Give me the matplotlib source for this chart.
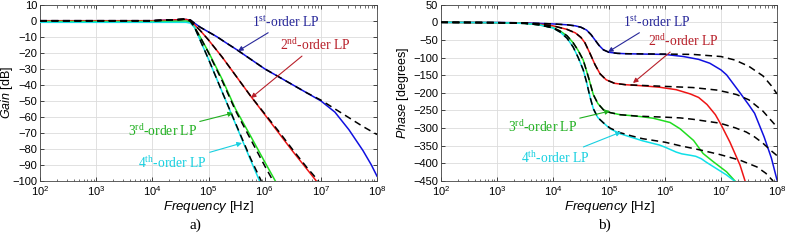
import numpy as np
import matplotlib
matplotlib.use("Agg")
import matplotlib.pyplot as plt

plt.rcParams['font.family'] = ['Liberation Sans', 'DejaVu Sans']
plt.rcParams['mathtext.fontset'] = 'custom'
plt.rcParams['mathtext.rm'] = 'Liberation Serif'
plt.rcParams['mathtext.it'] = 'Liberation Sans:italic'
plt.rcParams['mathtext.bf'] = 'Liberation Sans:bold'

# ---------------- Gain data (log10 frequency, dB) ----------------
g1_logf = [2, 4, 4.4, 4.6, 4.68, 4.75, 4.85, 5.0, 5.15, 5.3, 5.5, 5.75, 6.0, 6.25, 6.5, 6.75, 7.0, 7.25, 7.5, 7.75, 7.9, 8.0]
g1_sim = [0, 0, 0.5, 0.8, 0.3, -1.5, -4, -7, -10, -13.5, -18, -24, -30, -35, -40, -45, -50, -57, -68, -81, -90, -97]
g1d_logf = [2, 4, 4.4, 4.6, 4.68, 4.75, 4.85, 5.0, 5.15, 5.3, 5.5, 5.75, 6.0, 6.25, 6.5, 6.75, 7.0, 7.25, 7.5, 7.75, 8.0]
g1_ideal = [0, 0, 0.6, 1.0, 0.4, -1.5, -4, -7, -10, -13.5, -18, -24, -30, -35, -40, -45, -49.5, -55, -60.5, -66, -71]

g2_logf = [2, 4, 4.4, 4.6, 4.68, 4.75, 4.85, 5.0, 5.25, 5.5, 5.75, 6.0, 6.25, 6.5, 6.75, 6.92]
g2_sim = [0, 0, 0.5, 0.8, 0.2, -2.5, -6, -12, -23, -35, -47, -58.5, -70, -81.5, -92.5, -100]
g2d_logf = [2, 4, 4.4, 4.6, 4.68, 4.75, 4.85, 5.0, 5.25, 5.5, 5.75, 6.0, 6.25, 6.5, 6.75, 6.96]
g2_ideal = [0, 0, 0.6, 1.0, 0.3, -2.5, -6, -12, -23, -35, -47, -58, -69, -80.5, -91.5, -100]

g3_logf = [2, 4, 4.4, 4.6, 4.68, 4.75, 4.85, 5.0, 5.25, 5.48, 5.75, 6.0, 6.19]
g3_sim = [-0.5, -0.5, -0.3, -0.2, -1.0, -4, -10, -19.5, -37, -55, -72, -88, -100]
g3d_logf = [2, 4, 4.4, 4.6, 4.68, 4.75, 4.85, 5.0, 5.25, 5.48, 5.75, 6.0, 6.15]
g3_ideal = [0, 0, 0.6, 1.0, 0.0, -4, -10, -20, -38, -56, -74, -90.5, -100]

g4_logf = [2, 4, 4.4, 4.6, 4.68, 4.75, 4.85, 5.0, 5.25, 5.5, 5.75, 5.91]
g4_sim = [-1, -1, -1, -1, -1.5, -4, -12, -24, -45, -66, -87, -100]
g4d_logf = [2, 4, 4.4, 4.6, 4.68, 4.75, 4.85, 5.0, 5.25, 5.5, 5.75, 5.94]
g4_ideal = [0, 0, 0.6, 1.0, -0.5, -4, -12, -24, -45, -65.5, -86, -100]

# ---------------- Phase data (log10 frequency, degrees) ----------------
p1_logf = [2, 3, 3.5, 3.75, 4.0, 4.25, 4.4, 4.5, 4.6, 4.68, 4.75, 4.82, 4.9, 5.0, 5.15, 5.3, 5.6, 6.0, 6.33, 6.6, 6.8, 7.0, 7.1, 7.34, 7.5, 7.6, 7.77, 7.9, 8.0]
p1_sim = [0, -0.5, -1.5, -3, -4.5, -7, -10, -14, -22, -35, -50, -65, -78, -85, -88, -89, -90, -91, -97, -105, -116, -135, -149, -200, -235, -258, -325, -385, -447]
p1d_logf = [2, 3, 3.5, 3.75, 4.0, 4.25, 4.4, 4.5, 4.6, 4.68, 4.75, 4.82, 4.9, 5.0, 5.15, 5.3, 5.6, 6.0, 6.5, 7.0, 7.25, 7.5, 7.75, 7.9, 8.0]
p1_ideal = [0, -0.5, -1.5, -3, -4.5, -7, -10, -14, -22, -35, -50, -65, -78, -85, -88, -89, -89.5, -90, -91, -97, -107, -125, -152, -180, -203]

p2_logf = [2, 3, 3.5, 3.75, 4.0, 4.25, 4.4, 4.5, 4.57, 4.66, 4.75, 4.84, 4.95, 5.1, 5.3, 5.6, 5.9, 6.2, 6.45, 6.6, 6.75, 6.9, 7.0, 7.16, 7.34, 7.43]
p2_sim = [0, -1, -2.5, -5, -10, -20, -30, -43, -58, -88, -120, -146, -163, -173, -177, -180, -184, -191, -203, -213, -233, -262, -290, -340, -405, -450]
p2d_logf = [2, 3, 3.5, 3.75, 4.0, 4.25, 4.4, 4.5, 4.57, 4.66, 4.75, 4.84, 4.95, 5.1, 5.3, 5.6, 5.9, 6.5, 6.92, 7.1, 7.28, 7.5, 7.75, 7.95, 8.0]
p2_ideal = [0, -1, -2.5, -5, -10, -20, -30, -43, -58, -88, -120, -146, -163, -173, -177, -179, -181, -185, -192, -198, -205, -220, -252, -288, -298]

p3_logf = [2, 3, 3.5, 3.75, 4.0, 4.13, 4.25, 4.36, 4.45, 4.54, 4.63, 4.72, 4.8, 4.9, 5.02, 5.2, 5.43, 5.6, 5.79, 6.09, 6.27, 6.51, 6.68, 6.86, 7.1, 7.25]
p3_sim = [0, -1, -3, -7, -15, -25, -38, -58, -80, -107, -154, -205, -230, -248, -256, -262, -265, -268, -272, -284, -302, -335, -372, -395, -424, -450]
p3d_logf = [2, 3, 3.5, 3.75, 4.0, 4.13, 4.25, 4.36, 4.45, 4.54, 4.63, 4.72, 4.8, 4.9, 5.02, 5.2, 5.5, 6.0, 6.27, 6.5, 6.98, 7.25, 7.45, 7.6, 7.75, 7.88, 8.0]
p3_ideal = [0, -1, -3, -7, -15, -25, -38, -58, -80, -107, -154, -205, -230, -248, -256, -262, -266, -269, -271, -275, -286, -299, -311, -325, -343, -362, -378]

p4_logf = [2, 3, 3.5, 3.75, 4.0, 4.13, 4.25, 4.36, 4.45, 4.54, 4.6, 4.66, 4.72, 4.8, 4.9, 5.02, 5.2, 5.4, 5.6, 5.9, 6.0, 6.1, 6.2, 6.3, 6.45, 6.55, 6.65, 6.74, 6.85, 6.98, 7.1, 7.24]
p4_sim = [0, -1, -3, -7, -16, -28, -45, -70, -100, -135, -170, -211, -245, -270, -285, -302, -316, -326, -336, -348, -354, -361, -368, -373, -377, -380, -387, -397, -408, -421, -433, -450]
p4d_logf = [2, 3, 3.5, 3.75, 4.0, 4.13, 4.25, 4.36, 4.45, 4.54, 4.6, 4.66, 4.72, 4.8, 4.9, 5.02, 5.2, 5.4, 5.6, 6.0, 6.27, 6.63, 6.98, 7.34, 7.64, 7.8, 7.93]
p4_ideal = [0, -1, -3, -7, -16, -28, -45, -70, -100, -135, -170, -211, -245, -270, -285, -300, -313, -322, -330, -340, -350, -362, -375, -391, -410, -428, -450]

labels = [r"1$^{\mathrm{st}}$-order LP", r"2$^{\mathrm{nd}}$-order LP",
          r"3$^{\mathrm{rd}}$-order LP", r"4$^{\mathrm{th}}$-order LP"]
line_colors = ['#1010e0', '#ee1515', '#20dd20', '#10e0e8']
text_colors = ['#28289a', '#b8202a', '#20b020', '#18d0e0']

gain_yticks = list(range(10, -101, -10))
phase_yticks = list(range(50, -451, -50))
xticks_pow = [2, 3, 4, 5, 6, 7, 8]

fig = plt.figure(figsize=(7.87, 2.41), dpi=100)
axA = fig.add_axes([40/787, 1-181/241, 337/787, 176.3/241])
axB = fig.add_axes([441/787, 1-181/241, 336/787, 176.3/241])

def style(ax, yticks, ylab, ylab_x):
    ax.set_xscale('log')
    ax.set_xlim(1e2, 1e8)
    ax.set_ylim(yticks[-1], yticks[0])
    ax.set_yticks(yticks)
    ax.set_xticks([10.0**p for p in xticks_pow])
    ax.grid(True, which='major', color='#dcdcdc', linewidth=0.6)
    ax.tick_params(which='both', direction='in', top=True, right=True, labelsize=8, pad=2)
    ax.tick_params(which='major', length=3, width=0.5)
    ax.tick_params(which='minor', length=1.8, width=0.4)
    for s in ax.spines.values():
        s.set_linewidth(0.6)
        s.set_color('#444444')
    ax.set_xlabel(r"$\it{Frequency}$ [Hz]", fontsize=9.5, labelpad=1)
    ax.set_ylabel(ylab, fontsize=9)
    ax.yaxis.set_label_coords(ylab_x, 0.5)
    ax.set_axisbelow(True)

style(axA, gain_yticks, r"$\it{Gain}$ [dB]", -0.074)
style(axB, phase_yticks, r"$\it{Phase}$ [degrees]", -0.088)

gain_sim = [(g1_logf, g1_sim), (g2_logf, g2_sim), (g3_logf, g3_sim), (g4_logf, g4_sim)]
gain_ideal = [(g1d_logf, g1_ideal), (g2d_logf, g2_ideal), (g3d_logf, g3_ideal), (g4d_logf, g4_ideal)]
phase_sim = [(p1_logf, p1_sim), (p2_logf, p2_sim), (p3_logf, p3_sim), (p4_logf, p4_sim)]
phase_ideal = [(p1d_logf, p1_ideal), (p2d_logf, p2_ideal), (p3d_logf, p3_ideal), (p4d_logf, p4_ideal)]

for ax, sims, ideals in [(axA, gain_sim, gain_ideal), (axB, phase_sim, phase_ideal)]:
    for (lf, v), c in zip(sims, line_colors):
        ax.plot(10.0 ** np.array(lf), v, color=c, lw=1.1, zorder=3)
    for lf, v in ideals:
        ax.plot(10.0 ** np.array(lf), v, color='black', lw=1.1, ls=(0, (4.5, 3)), zorder=4)

def ann(ax, text, color, xy_px, txt_px, ha):
    bb = ax.get_position()
    W, H = 787, 241
    def frac(p):
        return ((p[0]/W - bb.x0)/bb.width, ((H - p[1])/H - bb.y0)/bb.height)
    ax.annotate(text, xy=frac(xy_px), xycoords='axes fraction',
                xytext=frac(txt_px), textcoords='axes fraction',
                color=color, fontsize=9.8, family='Liberation Serif',
                ha=ha, va='center',
                arrowprops=dict(arrowstyle='-|>', color=color, lw=0.8,
                                mutation_scale=7, shrinkA=0, shrinkB=0),
                zorder=6)

# Gain annotations
ann(axA, labels[0], text_colors[0], (238, 51), (252, 22), 'left')
ann(axA, labels[1], text_colors[1], (251, 98), (280, 45), 'left')
ann(axA, labels[2], text_colors[2], (233, 113), (197, 131), 'right')
ann(axA, labels[3], text_colors[3], (242, 143), (207, 163), 'right')
# Phase annotations
ann(axB, labels[0], text_colors[0], (608, 52), (623, 22), 'left')
ann(axB, labels[1], text_colors[1], (633, 83), (648, 41), 'left')
ann(axB, labels[2], text_colors[2], (610, 111), (577, 127), 'right')
ann(axB, labels[3], text_colors[3], (621, 132), (590, 158), 'right')

fig.text(195/787, 1-225/241, "a)", fontsize=11, family='Liberation Serif', ha='center', va='center')
fig.text(604/787, 1-225/241, "b)", fontsize=11, family='Liberation Serif', ha='center', va='center')

fig.savefig("out.png", dpi=100)
